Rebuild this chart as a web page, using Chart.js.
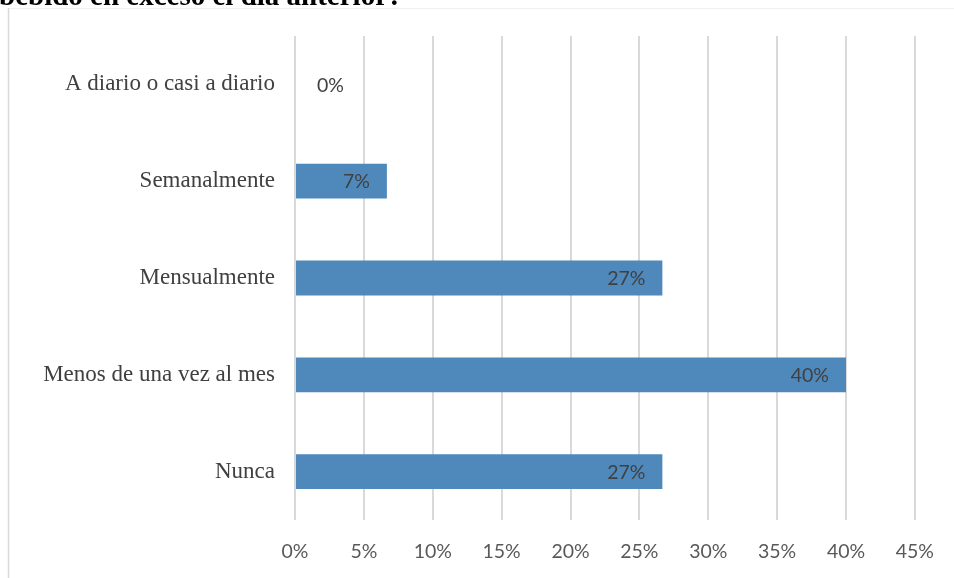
<!DOCTYPE html>
<html>
<head>
<meta charset="utf-8">
<script src="https://cdn.jsdelivr.net/npm/chart.js@4/dist/chart.umd.min.js"></script>
<style>
  html, body { margin: 0; padding: 0; background: #fff; }
  #wrap { width: 954px; height: 578px; }
</style>
</head>
<body>
<div id="wrap"><canvas id="chart" width="954" height="578"></canvas></div>
<script>
// Frecuencia de consumo en exceso (porcentaje de respuestas, n = 15)
const categories = [
    'A diario o casi a diario',
    'Semanalmente',
    'Mensualmente',
    'Menos de una vez al mes',
    'Nunca'
];
const percents = [0, 6.67, 26.67, 40, 26.67];
const xTicks = [0, 5, 10, 15, 20, 25, 30, 35, 40, 45];

const titleText = 'bebido en exceso el día anterior?';

// Frame + clipped title at the top of the figure
const framePlugin = {
    id: 'frame',
    beforeDraw(chart) {
        const c = chart.ctx;
        c.save();
        c.fillStyle = '#ffffff';
        c.fillRect(0, 0, chart.width, chart.height);
        c.strokeStyle = '#f0f0f0';
        c.lineWidth = 1;
        c.beginPath();
        c.moveTo(8, 8.5);
        c.lineTo(chart.width, 8.5);
        c.stroke();
        c.strokeStyle = '#d9d9d9';
        c.lineWidth = 1.5;
        c.beginPath();
        c.moveTo(8.5, 8);
        c.lineTo(8.5, chart.height);
        c.stroke();
        c.fillStyle = '#000000';
        c.font = 'bold 29px "Liberation Serif"';
        c.textAlign = 'left';
        c.textBaseline = 'alphabetic';
        c.fillText(titleText, -1, 5);
        c.restore();
    }
};

// Value labels at the inner end of each bar
const valueLabels = {
    id: 'valueLabels',
    afterDatasetsDraw(chart) {
        const c = chart.ctx;
        const meta = chart.getDatasetMeta(0);
        c.save();
        c.font = '19.5px Lato';
        c.fillStyle = '#404040';
        c.textBaseline = 'middle';
        meta.data.forEach((bar, i) => {
            const v = percents[i];
            const txt = Math.round(v) + '%';
            if (v === 0) {
                c.textAlign = 'left';
                c.fillText(txt, bar.x + 22, bar.y + 1);
            } else {
                c.textAlign = 'right';
                c.fillText(txt, bar.x - 17, bar.y + 1);
            }
        });
        c.restore();
    }
};

new Chart(document.getElementById('chart'), {
    type: 'bar',
    data: {
        labels: categories,
        datasets: [{
            data: percents,
            backgroundColor: '#4f88bb',
            borderWidth: 0,
            categoryPercentage: 1,
            barPercentage: 0.36
        }]
    },
    options: {
        indexAxis: 'y',
        responsive: false,
        animation: false,
        layout: { padding: { left: 0, top: 36, right: 31, bottom: 0 } },
        plugins: {
            legend: { display: false },
            tooltip: { enabled: false }
        },
        scales: {
            x: {
                min: 0,
                max: 45,
                afterBuildTicks: (axis) => { axis.ticks = xTicks.map(v => ({ value: v })); },
                ticks: {
                    callback: (v) => v + '%',
                    color: '#595959',
                    font: { family: 'Lato', size: 19.5 },
                    padding: 20,
                    maxRotation: 0
                },
                grid: { color: '#d9d9d9', lineWidth: 2, drawTicks: false },
                border: { display: false },
                afterFit: (axis) => { axis.height = 58; }
            },
            y: {
                ticks: {
                    color: '#404040',
                    font: { family: '"Liberation Serif"', size: 23 },
                    padding: 20
                },
                grid: { display: false, drawTicks: false },
                border: { display: false },
                afterFit: (axis) => { axis.width = 295; }
            }
        }
    },
    plugins: [framePlugin, valueLabels]
});
</script>
</body>
</html>
